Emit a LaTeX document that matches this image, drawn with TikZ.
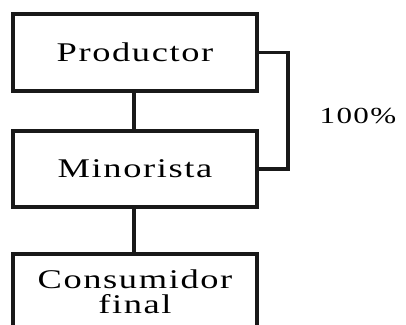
\documentclass[tikz,border=0pt]{standalone}
\usepackage{fontspec}
\setmainfont{Liberation Serif}[FakeStretch=1.35,LetterSpace=6]
\begin{document}
\begin{tikzpicture}[x=1pt,y=1pt,
  boxnode/.style={draw=black!90,line width=3.4pt,rectangle,minimum width=244pt,inner sep=0pt,align=center,font=\fontsize{27}{25}\selectfont},
  link/.style={draw=black!90,line width=3.2pt},
  lbl/.style={font=\fontsize{23}{23}\selectfont,inner sep=0pt}]
\useasboundingbox (0,0) rectangle (406,-324);
\clip (0,0) rectangle (406,-324);
\fill[white] (0,0) rectangle (406,-324);
\node[boxnode,minimum height=77pt] (prod) at (135,-52.5) {Productor};
\node[boxnode,minimum height=76pt] (mino) at (135,-169) {Minorista};
\node[boxnode,minimum height=75pt] (cons) at (135,-291.5) {Consumidor\\final};
\coordinate (c1) at (288,-52.5);
\coordinate (c2) at (288,-169);
\draw[link] (prod.south -| 134,0) -- (mino.north -| 134,0);
\draw[link] (mino.south -| 134,0) -- (cons.north -| 134,0);
\draw[link] (prod.east) -- (c1) -- (c2) -- (mino.east);
\node[lbl] (pct) at (358,-116) {100\%};
\end{tikzpicture}
\end{document}
